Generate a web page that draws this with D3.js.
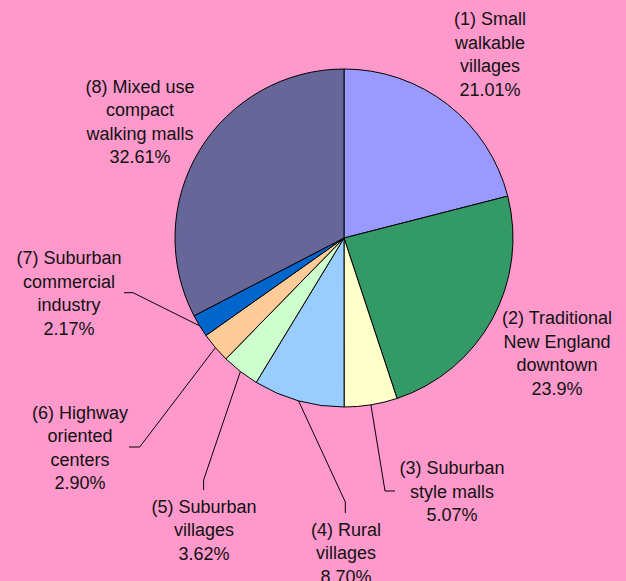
<!DOCTYPE html>
<html>
<head>
<meta charset="utf-8">
<script src="https://cdn.jsdelivr.net/npm/d3@7/dist/d3.min.js"></script>
<style>
  html, body { margin: 0; padding: 0; background: #FF99CC; }
  svg { display: block; }
  text { font-family: "Liberation Sans", Arial, sans-serif; font-size: 18px; fill: #111; }
</style>
</head>
<body>
<div id="chart"></div>
<script>
// data
const categories = [
  ["(1) Small", "walkable", "villages"],
  ["(2) Traditional", "New England", "downtown"],
  ["(3) Suburban", "style malls"],
  ["(4) Rural", "villages"],
  ["(5) Suburban", "villages"],
  ["(6) Highway", "oriented", "centers"],
  ["(7) Suburban", "commercial", "industry"],
  ["(8) Mixed use", "compact", "walking malls"]
];
const shares = [21.01, 23.9, 5.07, 8.70, 3.62, 2.90, 2.17, 32.61];
const shareLabels = ["21.01%", "23.9%", "5.07%", "8.70%", "3.62%", "2.90%", "2.17%", "32.61%"];
const colors = ["#9999FF", "#339966", "#FFFFCC", "#99CCFF", "#CCFFCC", "#FFCC99", "#0066CC", "#666699"];

// layout of the labels (center x, y of first line) and leader elbows
const labelAt = [
  { x: 490, y: 18.5 },
  { x: 557, y: 317.5 },
  { x: 452, y: 467.5 },
  { x: 346, y: 529 },
  { x: 204, y: 506 },
  { x: 80, y: 412 },
  { x: 69, y: 257.5 },
  { x: 140, y: 86 }
];
const leaders = {
  2: [[385, 491], [395, 491]],
  3: [[345.3, 502], [345.3, 513]],
  4: [[203.6, 480], [203.6, 490]],
  5: [[139.7, 447], [129, 447]],
  6: [[133, 292.7], [124, 292.7]]
};

const width = 626, height = 581;
const cx = 344, cy = 238, r = 169;
const lineH = 23.6;

const svg = d3.select("#chart").append("svg")
  .attr("width", width)
  .attr("height", height);

const pie = d3.pie().sort(null).value(d => d)(shares);
const arc = d3.arc().innerRadius(0).outerRadius(r);

const g = svg.append("g").attr("transform", `translate(${cx},${cy})`);

g.selectAll("path.slice")
  .data(pie)
  .enter()
  .append("path")
  .attr("class", "slice")
  .attr("d", arc)
  .attr("fill", (d, i) => colors[i])
  .attr("stroke", "#000")
  .attr("stroke-width", 1);

// leader lines from arc mid to label
const line = d3.line();
Object.keys(leaders).forEach(k => {
  const d = pie[k];
  const a = (d.startAngle + d.endAngle) / 2;
  const start = [cx + r * Math.sin(a), cy - r * Math.cos(a)];
  svg.append("path")
    .attr("d", line([start].concat(leaders[k])))
    .attr("fill", "none")
    .attr("stroke", "#000")
    .attr("stroke-width", 1);
});

// labels
categories.forEach((lines, i) => {
  const all = lines.concat([shareLabels[i]]);
  const t = svg.append("text")
    .attr("text-anchor", "middle");
  all.forEach((s, j) => {
    t.append("tspan")
      .attr("x", labelAt[i].x)
      .attr("y", labelAt[i].y + j * lineH + 6.5)
      .text(s);
  });
});
</script>
</body>
</html>
